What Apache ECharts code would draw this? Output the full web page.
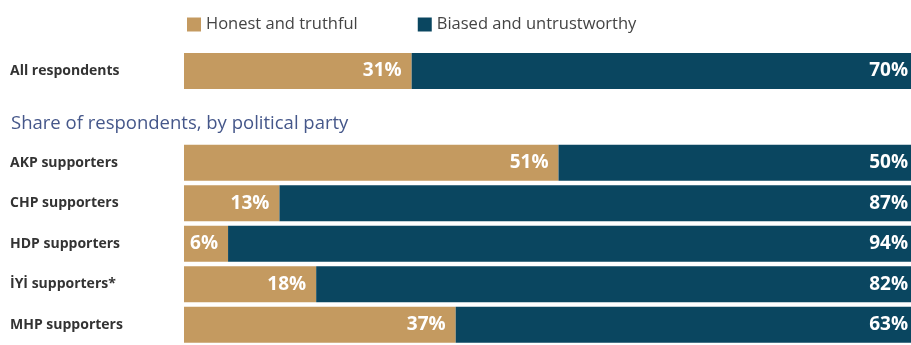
<!DOCTYPE html>
<html>
<head>
<meta charset="utf-8">
<script src="https://cdn.jsdelivr.net/npm/echarts@6/dist/echarts.min.js"></script>
<style>
  html, body { margin: 0; padding: 0; background: #fff; }
  #chart { width: 911px; height: 345px; }
</style>
</head>
<body>
<div id="chart"></div>
<script>
// Datos
const seriesNames = ['Honest and truthful', 'Biased and untrustworthy']
const overallCategories = ['All respondents']
const overallHonest = [31]
const overallBiased = [70]
const partyCategories = ['AKP supporters', 'CHP supporters', 'HDP supporters', 'İYİ supporters*', 'MHP supporters']
const partyHonest = [51, 13, 6, 18, 37]
const partyBiased = [50, 87, 94, 82, 63]
const subtitle = 'Share of respondents, by political party'

const colors = ['#c49a60', '#0a4660']
const font = '"Open Sans", sans-serif'

const labelStyle = (padRight) => ({
  show: true,
  position: 'insideRight',
  distance: padRight,
  color: '#fff',
  fontFamily: font,
  fontWeight: 'bold',
  fontSize: 19,
  formatter: '{c}%'
})

// La barra completa se sale del borde derecho y queda recortada
const makeSeries = (grid, honest, biased) => [
  {
    name: seriesNames[0],
    type: 'bar',
    stack: 'g' + grid,
    xAxisIndex: grid,
    yAxisIndex: grid,
    barWidth: 36,
    clip: true,
    data: honest,
    itemStyle: { color: colors[0] },
    label: labelStyle(10)
  },
  {
    name: seriesNames[1],
    type: 'bar',
    stack: 'g' + grid,
    xAxisIndex: grid,
    yAxisIndex: grid,
    barWidth: 36,
    clip: true,
    data: biased,
    itemStyle: { color: colors[1] },
    label: labelStyle(3)
  }
]

const yAxisBase = (cats) => ({
  type: 'category',
  data: cats,
  inverse: true,
  axisLine: { show: false },
  axisTick: { show: false },
  axisLabel: {
    align: 'left',
    margin: 174,
    color: '#333',
    fontFamily: font,
    fontWeight: 'bold',
    fontSize: 14,
    padding: [4, 0, 0, 0]
  }
})

const xAxisBase = () => ({
  type: 'value',
  min: 0,
  max: 99,
  show: false
})

const chart = echarts.init(document.getElementById('chart'), null, { renderer: 'canvas' })
chart.setOption({
  animation: false,
  color: colors,
  legend: {
    data: seriesNames,
    left: 182,
    top: 11,
    itemWidth: 14,
    itemHeight: 14,
    itemGap: 60,
    icon: 'rect',
    textStyle: { color: '#444', fontFamily: font, fontSize: 16.5 }
  },
  title: {
    text: subtitle,
    left: 6,
    top: 109,
    textStyle: { color: '#45578a', fontFamily: font, fontWeight: 'normal', fontSize: 18.5 }
  },
  grid: [
    { left: 184, right: 0, top: 53, height: 36 },
    { left: 184, right: 0, top: 142.5, height: 207.5 }
  ],
  xAxis: [xAxisBase(), Object.assign(xAxisBase(), { gridIndex: 1 })],
  yAxis: [yAxisBase(overallCategories), Object.assign(yAxisBase(partyCategories), { gridIndex: 1 })],
  series: [
    ...makeSeries(0, overallHonest, overallBiased),
    ...makeSeries(1, partyHonest, partyBiased)
  ]
})
</script>
</body>
</html>
